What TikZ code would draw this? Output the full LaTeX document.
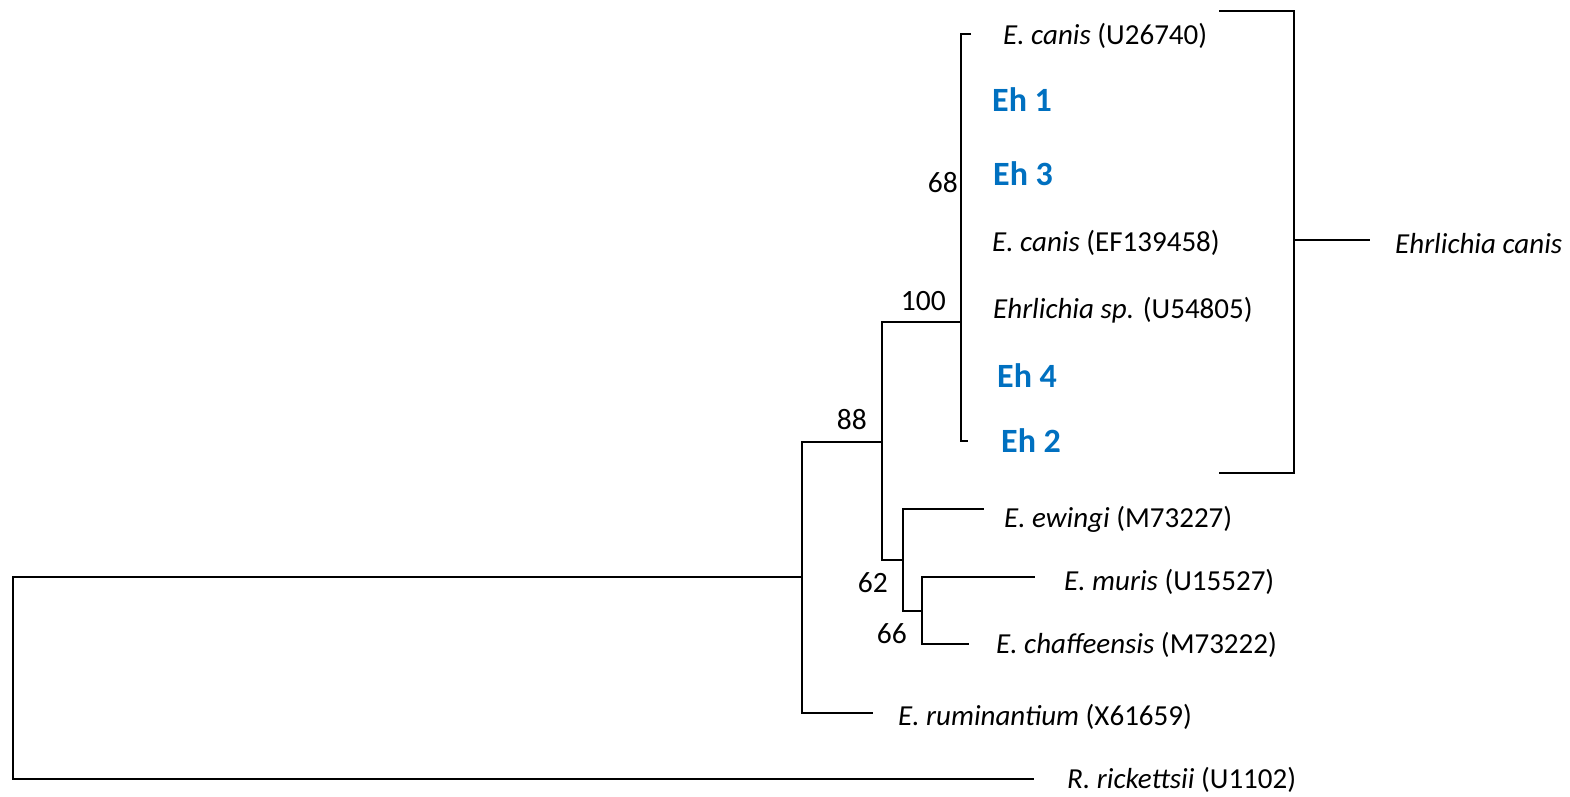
\documentclass[tikz,border=0pt]{standalone}
\usepackage{fontspec}
\setmainfont{Carlito}
\definecolor{ehblue}{RGB}{0,112,192}
\begin{document}
\begin{tikzpicture}[x=1pt,y=-1pt,
  br/.style={line width=2pt, line cap=rect},
  taxon/.style={anchor=base west, inner sep=0pt, font=\fontsize{29}{33}\selectfont},
  eh/.style={anchor=base west, inner sep=0pt, text=ehblue, font=\fontsize{34}{38}\selectfont\bfseries},
  boot/.style={anchor=base east, inner sep=0pt, font=\fontsize{29.5}{33}\selectfont}]
\useasboundingbox (0,0) rectangle (1570,797);
% internal nodes (coordinates)
\coordinate (r1) at (13,577);
\coordinate (r2) at (13,779);
\coordinate (n88t) at (802,442);
\coordinate (n88m) at (802,577);
\coordinate (n88b) at (802,713);
\coordinate (n100t) at (882,322);
\coordinate (n100m) at (882,442);
\coordinate (n100b) at (882,560);
\coordinate (n62t) at (903,509);
\coordinate (n62m) at (903,560);
\coordinate (n62b) at (903,611);
\coordinate (n66t) at (922,577);
\coordinate (n66m) at (922,611);
\coordinate (n66b) at (922,644);
\coordinate (c68t) at (961,34);
\coordinate (c68m) at (961,322);
\coordinate (c68b) at (961,441);
\coordinate (tipU) at (971,34);
\coordinate (tipEh2) at (968,441);
\coordinate (tipEw) at (983,509);
\coordinate (tipMu) at (1034,577);
\coordinate (tipCh) at (968,644);
\coordinate (tipRu) at (872,713);
\coordinate (tipRr) at (1033,779);
\coordinate (bt) at (1220,11);
\coordinate (bb) at (1220,473);
\coordinate (bvt) at (1294,11);
\coordinate (bvm) at (1294,240);
\coordinate (bvb) at (1294,473);
\coordinate (bout) at (1369,240);
% branches
\draw[br] (tipRr) -- (r2) -- (r1) -- (n88m);
\draw[br] (n100m) -- (n88t) -- (n88b) -- (tipRu);
\draw[br] (c68m) -- (n100t) -- (n100b) -- (n62m);
\draw[br] (tipEw) -- (n62t) -- (n62b) -- (n66m);
\draw[br] (tipMu) -- (n66t) -- (n66b) -- (tipCh);
\draw[line width=2.6pt] (tipU) -- (c68t) -- (c68b) -- (tipEh2);
% clade bracket
\draw[br] (bt) -- (bvt) -- (bvb) -- (bb);
\draw[br] (bvm) -- (bout);
% labels
\node[taxon] (l1) at (1003,45) {\textit{E. canis} (U26740)};
\node[eh] (l2) at (992,112) {Eh 1};
\node[eh] (l3) at (993,185) {Eh 3};
\node[taxon] (l4) at (992,251) {\textit{E. canis} (EF139458)};
\node[taxon] (l5) at (993,318) {\textit{Ehrlichia sp.} (U54805)};
\node[eh] (l6) at (997,387) {Eh 4};
\node[eh] (l7) at (1001,452) {Eh 2};
\node[taxon] (l8) at (1004,527) {\textit{E. ewingi} (M73227)};
\node[taxon] (l9) at (1064,590) {\textit{E. muris} (U15527)};
\node[taxon] (l10) at (996,653) {\textit{E. chaffeensis} (M73222)};
\node[taxon] (l11) at (898,725) {\textit{E. ruminantium} (X61659)};
\node[taxon] (l12) at (1067,788) {\textit{R. rickettsii} (U1102)};
\node[taxon] (lc) at (1395,253) {\textit{Ehrlichia canis}};
% bootstrap values
\node[boot] (b68) at (958,192) {68};
\node[boot] (b100) at (946,310) {100};
\node[boot] (b88) at (867,429) {88};
\node[boot] (b62) at (888,592) {62};
\node[boot] (b66) at (907,643) {66};
\end{tikzpicture}
\end{document}
